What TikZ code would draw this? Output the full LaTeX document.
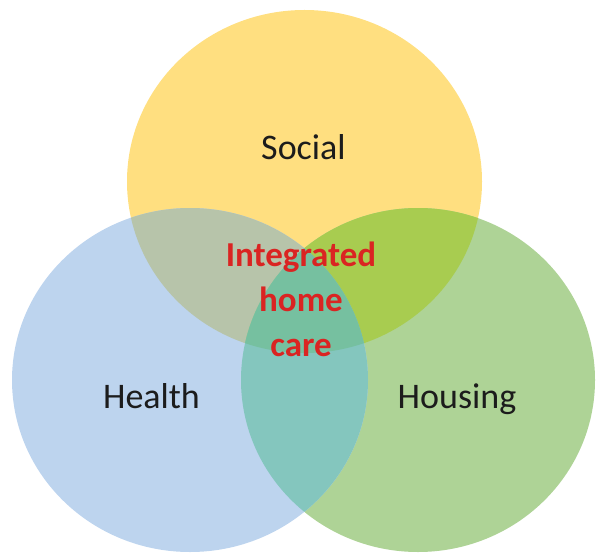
\documentclass[tikz,border=0pt]{standalone}
\usepackage{fontspec}
\setmainfont{Carlito}
\definecolor{socialcol}{RGB}{255,223,128}
\definecolor{healthcol}{RGB}{189,212,238}
\definecolor{housingcol}{RGB}{174,211,150}
\definecolor{socialhealthcol}{RGB}{183,196,170}
\definecolor{socialhousingcol}{RGB}{168,204,80}
\definecolor{healthhousingcol}{RGB}{132,198,190}
\definecolor{allcol}{RGB}{118,192,160}
\definecolor{carered}{RGB}{218,36,34}
\definecolor{labelcol}{RGB}{28,28,28}
\begin{document}
\begin{tikzpicture}[x=1pt, y=1pt,
    setlabel/.style={anchor=base, text=labelcol, font=\fontsize{36}{43}\selectfont},
    centrelabel/.style={anchor=base, text=carered, align=center,
        font=\bfseries\fontsize{35}{45}\selectfont}]
    \useasboundingbox (0, 0) rectangle (596, 555);
    \coordinate (socialc) at (304.5, 373.5);
    \coordinate (healthc) at (190, 175);
    \coordinate (housingc) at (418, 175);
    % the three sets
    \fill[socialcol] (socialc) ellipse (177.5 and 171.5);
    \fill[housingcol] (housingc) ellipse (177 and 172);
    \fill[healthcol] (healthc) ellipse (178 and 172);
    % overlaps
    \begin{scope}
        \clip (socialc) ellipse (177.5 and 171.5);
        \fill[socialhealthcol] (healthc) ellipse (178 and 172);
        \fill[socialhousingcol] (housingc) ellipse (177 and 172);
    \end{scope}
    \begin{scope}
        \clip (healthc) ellipse (178 and 172);
        \fill[healthhousingcol] (housingc) ellipse (177 and 172);
        \clip (housingc) ellipse (177 and 172);
        \fill[allcol] (socialc) ellipse (177.5 and 171.5);
    \end{scope}
    \node[setlabel] (social) at (303.5, 395) {Social};
    \node[setlabel] (health) at (151.5, 147) {Health};
    \node[setlabel] (housing) at (457, 147) {Housing};
    \node[centrelabel] (care) at (301, 199) {Integrated\\home\\care};
\end{tikzpicture}
\end{document}
